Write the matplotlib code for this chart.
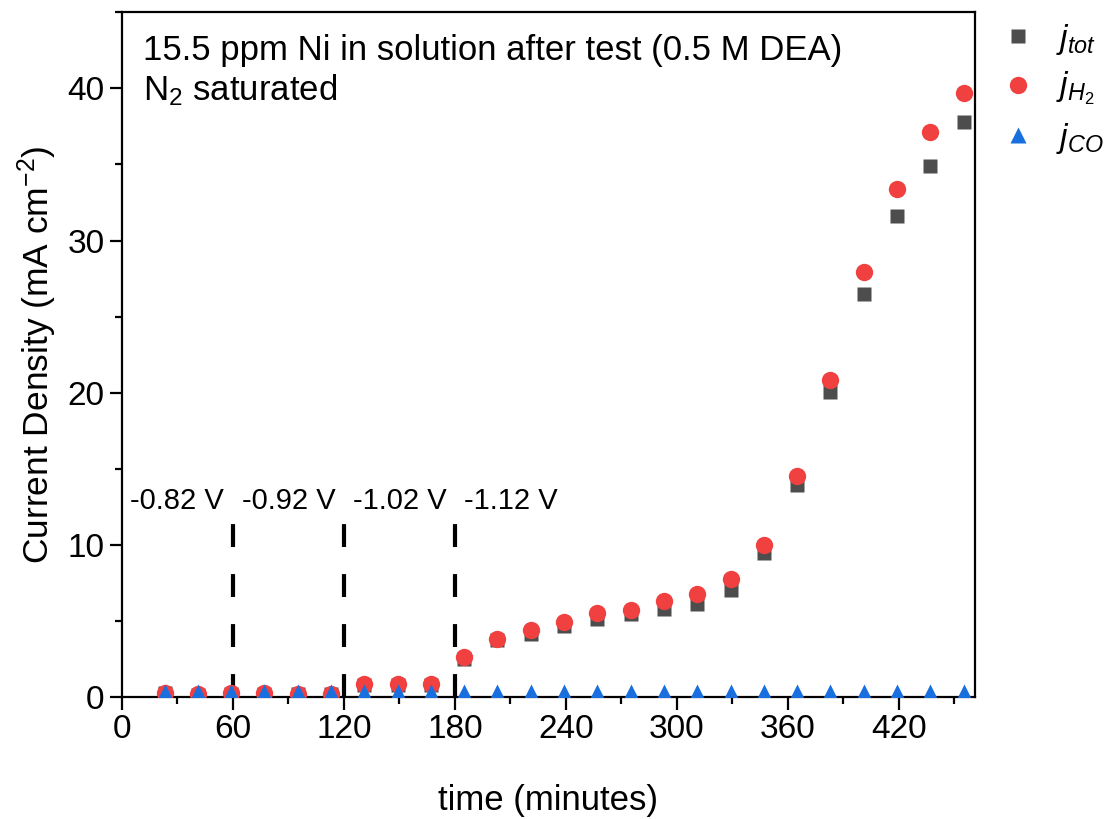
import matplotlib
matplotlib.use('Agg')
from matplotlib import pyplot as plt
from matplotlib.ticker import MultipleLocator
import numpy as np

plt.rcParams['font.family'] = ['Liberation Sans', 'DejaVu Sans']
plt.rcParams['mathtext.fontset'] = 'custom'
plt.rcParams['mathtext.it'] = 'Liberation Sans:italic'
plt.rcParams['mathtext.rm'] = 'Liberation Sans'

time = [23, 41, 59, 77, 95, 113, 131, 149, 167, 185, 203, 221, 239, 257, 275,
        293, 311, 329, 347, 365, 383, 401, 419, 437, 455]
j_tot = [0.25, 0.15, 0.2, 0.2, 0.2, 0.2, 0.8, 0.8, 0.8, 2.5, 3.75, 4.15, 4.65,
         5.1, 5.45, 5.8, 6.1, 7.05, 9.45, 13.9, 20.05, 26.5, 31.6, 34.9, 37.8]
j_h2 = [0.28, 0.18, 0.25, 0.25, 0.22, 0.22, 0.85, 0.82, 0.82, 2.6, 3.8, 4.4, 4.95,
        5.55, 5.72, 6.28, 6.78, 7.73, 9.97, 14.55, 20.8, 27.9, 33.4, 37.1, 39.7]
j_co = [0.3, 0.3, 0.3, 0.3, 0.3, 0.3, 0.35, 0.35, 0.35, 0.3, 0.3, 0.3, 0.3, 0.3,
        0.3, 0.3, 0.3, 0.3, 0.3, 0.3, 0.3, 0.3, 0.3, 0.3, 0.3]

steps = [60, 120, 180]
step_labels = ['-0.82 V', '-0.92 V', '-1.02 V', '-1.12 V']
label_x = [4.5, 65, 125, 185]

fig = plt.figure(figsize=(11.14, 8.19), dpi=100)
ax = fig.add_axes([0.1095, 0.149, 0.7655, 0.836])

ax.plot(time, j_tot, 's', color='#4d4d4d', ms=10, mec='none', label=r'$j_{tot}$', zorder=3)
ax.plot(time, j_h2, 'o', color='#f04040', ms=12.5, mec='none', label=r'$j_{H_2}$', zorder=4)
ax.plot(time, j_co, '^', color='#1a6fdf', ms=11, mec='none', label=r'$j_{CO}$', zorder=5)

for s in steps:
    ax.plot([s, s], [0, 11.5], color='black', lw=3, dashes=(5.5, 6.5), zorder=2)
for x, t in zip(label_x, step_labels):
    ax.text(x, 12.9, t, fontsize=21, va='center', ha='left')

ax.text(0.025, 0.968, '15.5 ppm Ni in solution after test (0.5 M DEA)\nN$_2$ saturated',
        transform=ax.transAxes, fontsize=25, va='top', ha='left', linespacing=1.2)

ax.set_xlim(0, 461)
ax.set_ylim(0, 45)
ax.xaxis.set_major_locator(MultipleLocator(60))
ax.xaxis.set_minor_locator(MultipleLocator(30))
ax.yaxis.set_major_locator(MultipleLocator(10))
ax.yaxis.set_minor_locator(MultipleLocator(5))
ax.tick_params(which='both', direction='out', width=1.6, labelsize=24, top=False, right=False)
ax.tick_params(which='major', length=9)
ax.tick_params(which='minor', length=5)
for sp in ax.spines.values():
    sp.set_linewidth(1.6)

ax.set_xlabel('time (minutes)', fontsize=25, labelpad=28)
ax.set_ylabel('Current Density (mA cm$^{-2}$)', fontsize=25.5, labelpad=6)

ax.legend(loc='upper left', bbox_to_anchor=(1.0, 1.02), frameon=False, fontsize=24,
          handletextpad=0.55, labelspacing=0.4, borderaxespad=0.3, handlelength=1.2)

fig.savefig('out.png', dpi=100)
